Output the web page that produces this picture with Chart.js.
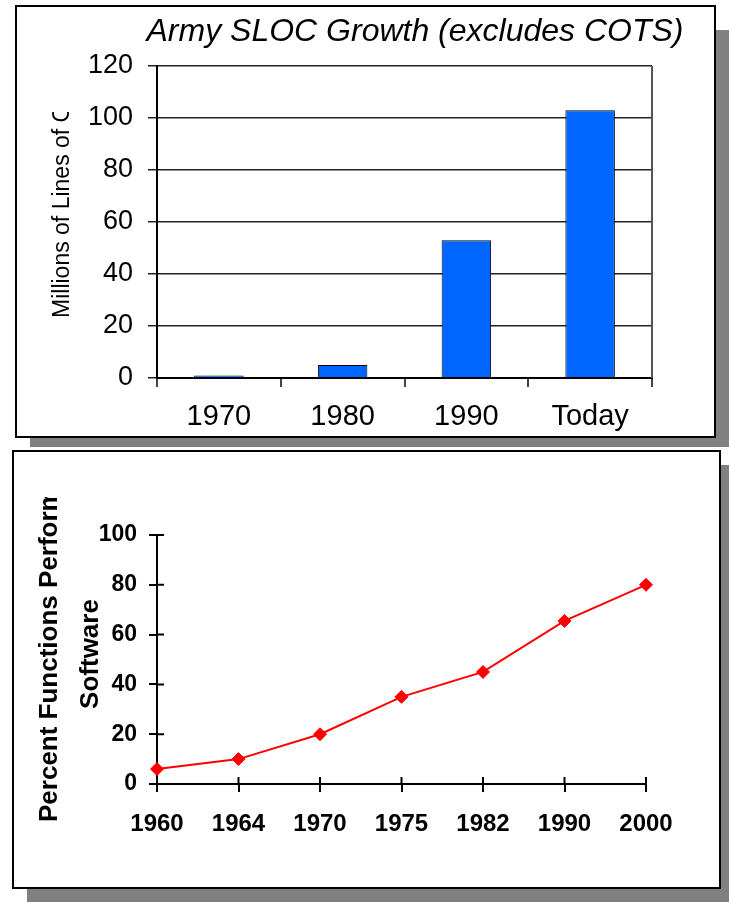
<!DOCTYPE html>
<html>
<head>
<meta charset="utf-8">
<script src="https://cdn.jsdelivr.net/npm/chart.js@4"></script>
<style>
  html, body { margin: 0; padding: 0; background: #fff; }
  body { width: 729px; height: 902px; position: relative; overflow: hidden; }
  .shadow { position: absolute; background: #808080; }
  .panel { position: absolute; background: #fff; border: 2px solid #000; box-sizing: border-box; }
  canvas { position: absolute; }
</style>
</head>
<body>
<div class="shadow" style="left:30px;top:30px;width:699px;height:417px"></div>
<div class="panel" style="left:15px;top:5px;width:701px;height:433px"></div>
<div class="shadow" style="left:27px;top:465px;width:702px;height:437px"></div>
<div class="panel" style="left:12px;top:450px;width:709px;height:439px"></div>
<canvas id="sloc" width="697" height="429" style="left:17px;top:7px"></canvas>
<canvas id="functions" width="705" height="435" style="left:14px;top:452px"></canvas>

<script>
// Army source lines of code, in millions
const slocYears = ['1970', '1980', '1990', 'Today'];
const slocMillions = [1, 5, 53, 103];
const slocAxisMax = 120;
const slocAxisStep = 20;

// Share of system functions performed in software, percent
const functionYears = ['1960', '1964', '1970', '1975', '1982', '1990', '2000'];
const softwarePercent = [6, 10, 20, 35, 45, 65.5, 80];
const percentAxisMax = 100;
const percentAxisStep = 20;

const FONT = "'Liberation Sans', Arial, Helvetica, sans-serif";
Chart.defaults.font.family = FONT;
Chart.defaults.color = '#000';

// Free-positioned chart heading
const panelTitle = {
  id: 'panelTitle',
  afterDraw(chart, args, opts) {
    if (!opts.text) return;
    const ctx = chart.ctx;
    ctx.save();
    ctx.font = opts.font;
    ctx.fillStyle = '#000';
    ctx.textAlign = 'center';
    ctx.textBaseline = 'middle';
    ctx.fillText(opts.text, opts.x, opts.y);
    ctx.restore();
  }
};

// Rotated axis titles that are cut off at a given height
const clippedYTitle = {
  id: 'clippedYTitle',
  afterDraw(chart, args, opts) {
    const ctx = chart.ctx;
    (opts.lines || []).forEach(line => {
      ctx.save();
      ctx.beginPath();
      ctx.rect(0, line.clipTop, chart.width, chart.height - line.clipTop);
      ctx.clip();
      ctx.translate(line.x, line.y);
      ctx.rotate(-Math.PI / 2);
      ctx.font = line.font;
      ctx.fillStyle = '#000';
      ctx.textAlign = line.align;
      ctx.textBaseline = 'middle';
      ctx.fillText(line.text, 0, 0);
      ctx.restore();
    });
  }
};

// Right-hand frame line of the plot area
const plotFrame = {
  id: 'plotFrame',
  beforeDatasetsDraw(chart, args, opts) {
    if (!opts.enabled) return;
    const { ctx, chartArea } = chart;
    ctx.save();
    ctx.strokeStyle = opts.color;
    ctx.lineWidth = opts.width;
    ctx.beginPath();
    ctx.moveTo(chartArea.right, chartArea.top);
    ctx.lineTo(chartArea.right, chartArea.bottom);
    ctx.stroke();
    ctx.restore();
  }
};

// Tick marks that continue inside the plot area
const innerTicks = {
  id: 'innerTicks',
  beforeDatasetsDraw(chart, args, opts) {
    if (!opts.enabled) return;
    const { ctx, scales: { x, y } } = chart;
    ctx.save();
    ctx.strokeStyle = '#000';
    ctx.lineWidth = opts.width;
    ctx.beginPath();
    y.ticks.forEach(t => {
      const py = y.getPixelForValue(t.value);
      ctx.moveTo(x.left, py);
      ctx.lineTo(x.left + opts.length, py);
    });
    x.ticks.forEach((t, i) => {
      const px = x.getPixelForTick(i);
      ctx.moveTo(px, y.bottom);
      ctx.lineTo(px, y.bottom - opts.length);
    });
    ctx.stroke();
    ctx.restore();
  }
};

Chart.register(panelTitle, clippedYTitle, plotFrame, innerTicks);

new Chart(document.getElementById('sloc'), {
  type: 'bar',
  data: {
    labels: slocYears,
    datasets: [{
      data: slocMillions,
      backgroundColor: '#0066FF',
      borderColor: '#000',
      borderWidth: 1,
      barPercentage: 0.4,
      categoryPercentage: 1
    }]
  },
  options: {
    responsive: false,
    animation: false,
    devicePixelRatio: 1,
    layout: { padding: { left: 0, right: 62, top: 59, bottom: 0 } },
    plugins: {
      legend: { display: false },
      tooltip: { enabled: false },
      title: { display: false },
      panelTitle: {
        text: 'Army SLOC Growth (excludes COTS)',
        x: 398, y: 25,
        font: "italic 32px " + FONT
      },
      clippedYTitle: {
        lines: [{ text: 'Millions of Lines of Code', x: 46, y: 311, clipTop: 105,
                  align: 'left', font: "23px " + FONT }]
      },
      plotFrame: { enabled: true, color: '#555', width: 2 },
      innerTicks: { enabled: false }
    },
    scales: {
      x: {
        grid: { offset: true, drawOnChartArea: false, drawTicks: true, tickLength: 9, color: '#444', lineWidth: 2 },
        border: { color: '#000', width: 2 },
        ticks: { font: { size: 29 }, padding: 13, maxRotation: 0 },
        afterFit(scale) { scale.height = 58; }
      },
      y: {
        min: 0,
        max: slocAxisMax,
        ticks: { stepSize: slocAxisStep, font: { size: 27 }, padding: 15 },
        grid: { color: '#222', lineWidth: 1.5, drawTicks: true, tickLength: 9 },
        border: { color: '#000', width: 2 },
        afterFit(scale) { scale.width = 140; }
      }
    }
  }
});

new Chart(document.getElementById('functions'), {
  type: 'line',
  data: {
    labels: functionYears,
    datasets: [{
      data: softwarePercent,
      borderColor: '#FF0000',
      backgroundColor: '#FF0000',
      borderWidth: 2,
      pointStyle: 'rectRot',
      pointRadius: 6.5,
      pointBorderWidth: 1,
      tension: 0,
      clip: false
    }]
  },
  options: {
    responsive: false,
    animation: false,
    devicePixelRatio: 1,
    layout: { padding: { left: 0, right: 73, top: 83, bottom: 0 } },
    plugins: {
      legend: { display: false },
      tooltip: { enabled: false },
      title: { display: false },
      clippedYTitle: {
        lines: [
          { text: 'Percent Functions Performed in', x: 36, y: 370, clipTop: 45,
            align: 'left', font: "bold 26px " + FONT },
          { text: 'Software', x: 77, y: 202, clipTop: 0,
            align: 'center', font: "bold 26px " + FONT }
        ]
      },
      plotFrame: { enabled: false },
      innerTicks: { enabled: true, length: 7, width: 2 }
    },
    scales: {
      x: {
        offset: false,
        grid: { drawOnChartArea: false, drawTicks: true, tickLength: 8, color: '#000', lineWidth: 2 },
        border: { color: '#000', width: 2 },
        ticks: { font: { size: 24, weight: 'bold' }, padding: 18, maxRotation: 0 },
        afterFit(scale) { scale.height = 103; }
      },
      y: {
        min: 0,
        max: percentAxisMax,
        ticks: { stepSize: percentAxisStep, font: { size: 23, weight: 'bold' }, padding: 12 },
        grid: { drawOnChartArea: false, drawTicks: true, tickLength: 8, color: '#000', lineWidth: 2 },
        border: { color: '#000', width: 2 },
        afterFit(scale) { scale.width = 143; }
      }
    }
  }
});
</script>
</body>
</html>
